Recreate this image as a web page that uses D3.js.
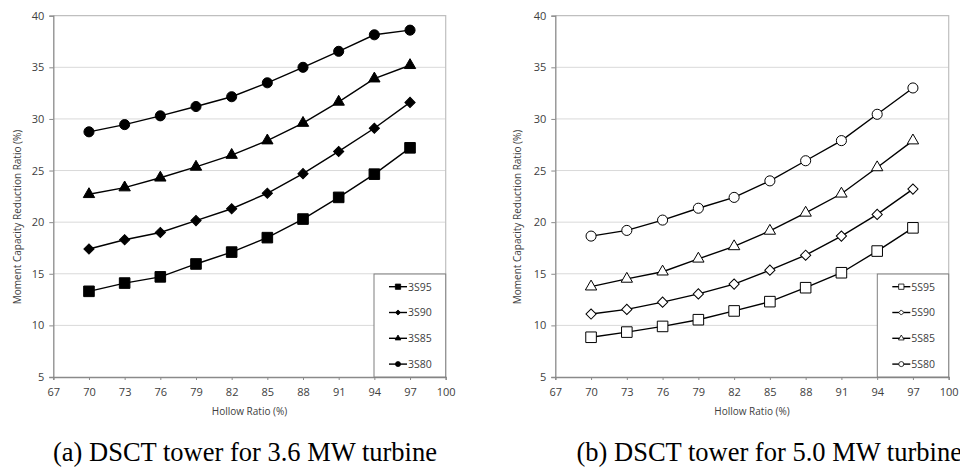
<!DOCTYPE html>
<html lang="en">
<head>
<meta charset="utf-8">
<style>
    body { margin: 0; background: #fff; }
    .tick text { font-family: "Open Sans", sans-serif; font-size: 11px; fill: #404040; }
    .lbl { font-family: "Open Sans", sans-serif; font-size: 10px; fill: #404040; }
    .leg { font-family: "Open Sans", sans-serif; font-size: 10.5px; fill: #404040; }
    .cap { font-family: "Liberation Serif", serif; font-size: 26.5px; fill: #000; }
</style>
</head>
<body>
<svg width="960" height="468"></svg>
<script src="https://cdn.jsdelivr.net/npm/d3@7"></script>
<script>
// hollow ratio on x, same for both panels
var hollow = [70, 73, 76, 79, 82, 85, 88, 91, 94, 97];
var xTicks = [67, 70, 73, 76, 79, 82, 85, 88, 91, 94, 97, 100];
var yTicks = [5, 10, 15, 20, 25, 30, 35, 40];

// (a) 3.6 MW
var s3_95 = [13.3, 14.1, 14.7, 15.95, 17.1, 18.5, 20.3, 22.4, 24.65, 27.2];
var s3_90 = [17.4, 18.3, 19.0, 20.15, 21.3, 22.8, 24.7, 26.85, 29.1, 31.6];
var s3_85 = [22.7, 23.35, 24.3, 25.35, 26.5, 27.9, 29.6, 31.65, 33.9, 35.2];
var s3_80 = [28.75, 29.45, 30.3, 31.2, 32.15, 33.5, 35.0, 36.55, 38.15, 38.6];

// (b) 5.0 MW
var s5_95 = [8.85, 9.35, 9.9, 10.55, 11.4, 12.3, 13.65, 15.1, 17.2, 19.45];
var s5_90 = [11.1, 11.55, 12.25, 13.05, 14.0, 15.35, 16.8, 18.65, 20.75, 23.2];
var s5_85 = [13.75, 14.5, 15.2, 16.45, 17.65, 19.15, 20.9, 22.75, 25.3, 27.9];
var s5_80 = [18.65, 19.2, 20.2, 21.35, 22.4, 24.0, 25.95, 27.9, 30.45, 33.0];

var shapes = ["square", "diamond", "triangle", "circle"];

var panels = [
    { left: 53.3, right: 445.7, ylab: 17, filled: true, caption: "(a) DSCT tower for 3.6 MW turbine", capX: 53,
      series: [{ name: "3S95", v: s3_95 }, { name: "3S90", v: s3_90 }, { name: "3S85", v: s3_85 }, { name: "3S80", v: s3_80 }],
      legX: 374 },
    { left: 555.3, right: 948.7, ylab: 517, filled: false, caption: "(b) DSCT tower for 5.0 MW turbine", capX: 576.5,
      series: [{ name: "5S95", v: s5_95 }, { name: "5S90", v: s5_90 }, { name: "5S85", v: s5_85 }, { name: "5S80", v: s5_80 }],
      legX: 877.3 }
];

var svg = d3.select("svg");
var plotTop = 15.7, plotBottom = 377;

function marker(shape, big) {
    var k = big ? 1 : 0.5;
    if (shape == "square") return d3.symbol(d3.symbolSquare, 112 * k * k)();
    if (shape == "diamond") return d3.symbol(d3.symbolSquare, 52 * k * k)();
    if (shape == "triangle") return d3.symbol(d3.symbolTriangle, 56 * k * k)();
    return d3.symbol(d3.symbolCircle, 80 * k * k)();
}

panels.forEach(function (p) {
    var x = d3.scaleLinear().domain([67, 100]).range([p.left, p.right]);
    var y = d3.scaleLinear().domain([5, 40]).range([plotBottom, plotTop]);
    var g = svg.append("g");

    // gridlines
    g.selectAll(".grid").data(yTicks.slice(1, -1)).enter().append("line")
        .attr("x1", p.left).attr("x2", p.right)
        .attr("y1", function (d) { return y(d); }).attr("y2", function (d) { return y(d); })
        .attr("stroke", "#d9d9d9").attr("stroke-width", 1);
    // frame top / right
    g.append("path")
        .attr("d", "M" + p.left + "," + y(40) + "H" + p.right + "V" + plotBottom)
        .attr("fill", "none").attr("stroke", "#bfbfbf").attr("stroke-width", 1.2);

    var ya = g.append("g").attr("transform", "translate(" + p.left + ",0)")
        .call(d3.axisLeft(y).tickValues(yTicks).tickSize(4).tickPadding(5));
    var xa = g.append("g").attr("transform", "translate(0," + plotBottom + ")")
        .call(d3.axisBottom(x).tickValues(xTicks).tickSize(3).tickPadding(8));
    [ya, xa].forEach(function (a) {
        a.select(".domain").attr("stroke", "#8a8a8a").attr("stroke-width", 1.3);
        a.selectAll(".tick line").attr("stroke", "#8a8a8a");
    });

    // axis titles
    g.append("text").attr("class", "lbl")
        .attr("x", (p.left + p.right) / 2).attr("y", 415)
        .attr("text-anchor", "middle").text("Hollow Ratio (%)");
    g.append("text").attr("class", "lbl")
        .attr("transform", "translate(" + (p.ylab + 3.5) + ",217) rotate(-90)")
        .attr("text-anchor", "middle").text("Moment Capacity Reduction Ratio  (%)");

    var line = d3.line()
        .x(function (d, i) { return x(hollow[i]); })
        .y(function (d) { return y(d); });

    p.series.forEach(function (s, si) {
        g.append("path").datum(s.v).attr("d", line)
            .attr("fill", "none").attr("stroke", "#000").attr("stroke-width", 1.4);
        g.selectAll(null).data(s.v).enter().append("path")
            .attr("d", marker(shapes[si], true))
            .attr("transform", function (d, i) {
                return "translate(" + x(hollow[i]) + "," + y(d) + ")" + (shapes[si] == "diamond" ? " rotate(45)" : "");
            })
            .attr("fill", p.filled ? "#000" : "#fff")
            .attr("stroke", "#000").attr("stroke-width", 1);
    });

    // legend
    var lg = g.append("g");
    lg.append("rect").attr("x", p.legX).attr("y", 274)
        .attr("width", p.right - p.legX).attr("height", plotBottom - 274)
        .attr("fill", "#fff").attr("stroke", "#7f7f7f").attr("stroke-width", 1);
    p.series.forEach(function (s, si) {
        var ly = 286.7 + si * 25.8;
        var lx = p.legX + 15;
        lg.append("line").attr("x1", lx).attr("x2", lx + 18).attr("y1", ly).attr("y2", ly)
            .attr("stroke", "#000").attr("stroke-width", 1.4);
        lg.append("path").attr("d", marker(shapes[si], false))
            .attr("transform", "translate(" + (lx + 9) + "," + ly + ")" + (shapes[si] == "diamond" ? " rotate(45)" : ""))
            .attr("fill", p.filled ? "#000" : "#fff").attr("stroke", "#000").attr("stroke-width", 0.8);
        lg.append("text").attr("class", "leg").attr("x", lx + 19).attr("y", ly + 3.8).text(s.name);
    });

    svg.append("text").attr("class", "cap").attr("x", p.capX).attr("y", 461).text(p.caption);
});
</script>
</body>
</html>
